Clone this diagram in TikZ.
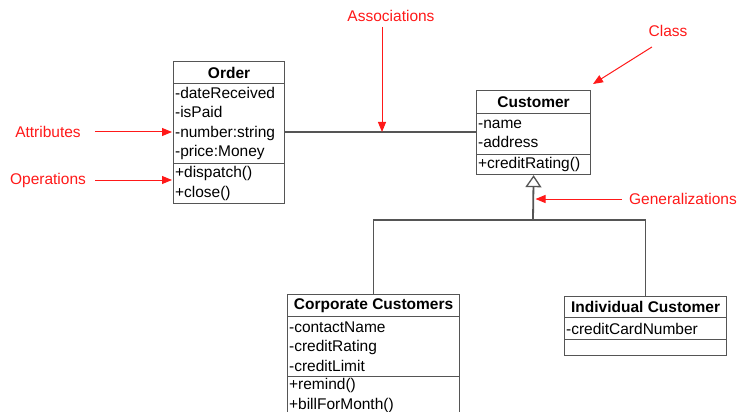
\documentclass[tikz,border=0pt]{standalone}
\usepackage{fontspec}
\setmainfont{Liberation Sans}
\usetikzlibrary{arrows.meta}
\definecolor{annred}{RGB}{255,25,25}
\definecolor{lngray}{RGB}{85,85,85}
\tikzset{
  ln/.style={draw=lngray, line width=1.2pt},
  comp/.style={ln, anchor=north west, inner xsep=1.5pt, inner ysep=0pt, align=left,
    font=\fontsize{15.5}{19.5}\selectfont, text=black},
  hdr/.style={ln, anchor=north west, inner sep=0pt, align=center,
    font=\fontsize{15.5}{19.5}\selectfont\bfseries, text=black},
  ann/.style={draw=annred, line width=1pt, -{Triangle[length=10pt,width=8pt]}},
  annlbl/.style={text=annred, inner sep=0pt, font=\fontsize{15.5}{18}\selectfont},
}
\begin{document}
\begin{tikzpicture}[x=1pt,y=-1pt]
\useasboundingbox (0,0) rectangle (740,412);
\clip (0,0) rectangle (740,412);
\fill[white] (0,0) rectangle (740,412);

% Order
\node[hdr, minimum width=111pt, minimum height=22pt] (oname) at (173,61) {Order};
\node[comp, minimum width=111pt, minimum height=80pt, text width=108pt] (oattr) at (173,83)
  {-dateReceived\\-isPaid\\-number:string\\-price:Money};
\node[comp, minimum width=111pt, minimum height=40pt, text width=108pt] (oops) at (173,163)
  {+dispatch()\\+close()};

% Customer
\node[hdr, minimum width=114pt, minimum height=23pt] (cname) at (476,90) {Customer};
\node[comp, minimum width=114pt, minimum height=41pt, text width=111pt] (cattr) at (476,113)
  {-name\\-address};
\node[comp, minimum width=114pt, minimum height=20pt, text width=111pt] (cops) at (476,154)
  {+creditRating()};

% Corporate Customers
\node[hdr, minimum width=172pt, minimum height=22pt] (pname) at (287,294) {Corporate Customers};
\node[comp, minimum width=172pt, minimum height=60pt, text width=169pt] (pattr) at (287,316)
  {-contactName\\-creditRating\\-creditLimit};
\node[comp, minimum width=172pt, minimum height=38pt, text width=169pt] (pops) at (287,376)
  {+remind()\\+billForMonth()};

% Individual Customer
\node[hdr, minimum width=162pt, minimum height=21pt] (iname) at (564,296) {Individual Customer};
\node[comp, minimum width=162pt, minimum height=22pt, text width=159pt] (iattr) at (564,317)
  {-creditCardNumber};
\node[comp, minimum width=162pt, minimum height=16pt, text width=159pt] (iops) at (564,339) {};

% Association
\coordinate (assoc) at (382,132);
\draw[ln] (oattr.east |- assoc) -- (cattr.west |- assoc);

% Generalization
\coordinate (junc) at (533,220);
\draw[ln] (pname.north) |- (junc) -| (iname.north);
\draw[ln, line width=1.8pt, -{Triangle[open, length=12pt, width=16pt, line width=1.3pt]}] (junc) -- (cops.south);

% Annotations
\node[annlbl] (lassoc) at (391,16) {Associations};
\draw[ann, shorten <=5pt] (lassoc.south -| assoc) -- (assoc);

\node[annlbl] (lclass) at (668,31) {Class};
\coordinate (classTo) at (593,84);
\draw[ann, shorten <=19pt] (lclass.south) -- (classTo);

\node[annlbl] (lgen) at (683,199) {Generalizations};
\coordinate (genTo) at (535.5,199);
\draw[ann, shorten <=7pt] (lgen.west) -- (genTo);

\node[annlbl] (lattr) at (48,132) {Attributes};
\draw[ann, shorten <=14pt, shorten >=1pt] (lattr.east) -- (oattr.west |- lattr);

\node[annlbl] (lops) at (48,180) {Operations};
\draw[ann, shorten <=9pt, shorten >=1pt] (lops.east) -- (oops.west |- lops);
\end{tikzpicture}
\end{document}
